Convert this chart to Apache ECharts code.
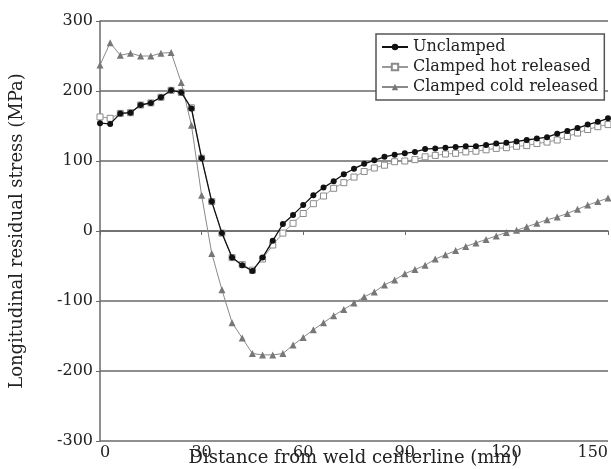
<!DOCTYPE html>
<html>
<head>
<meta charset="utf-8">
<script src="https://cdn.jsdelivr.net/npm/echarts@6/dist/echarts.min.js"></script>
<style>html,body{margin:0;padding:0;background:#fff}#c{width:611px;height:469px}</style>
</head>
<body>
<div id="c"></div>
<script>
const distance = [0,3,6,9,12,15,18,21,24,27,30,33,36,39,42,45,48,51,54,57,60,63,66,69,72,75,78,81,84,87,90,93,96,99,102,105,108,111,114,117,120,123,126,129,132,135,138,141,144,147,150];
const unclamped = [154,153,168,169,180,183,191,201,198,175,104,42,-3,-38,-49,-57,-38,-14,10,23,37,51,62,71,81,89,96,101,106,109,111,113,117,118,119,120,121,121,123,125,126,128,130,132,134,139,143,147,152,156,161];
const hotReleased = [163,161,168,169,180,183,191,201,198,176,104,42,-3,-38,-48,-56,-40,-20,-3,11,25,39,50,61,69,77,85,90,94,99,100,102,106,108,110,111,113,114,116,118,119,121,122,125,127,130,135,140,145,149,152];
const coldReleased = [237,269,251,254,250,250,254,255,212,151,51,-32,-84,-131,-153,-175,-177,-177,-175,-163,-152,-141,-131,-121,-112,-103,-94,-87,-77,-70,-61,-55,-49,-40,-34,-28,-22,-17,-12,-7,-2,1,6,11,16,20,25,31,37,42,47];
const seriesNames = ['Unclamped','Clamped hot released','Clamped cold released'];
const xTitle = 'Distance from weld centerline (mm)';
const yTitle = 'Longitudinal residual stress (MPa)';

const FONT = 'DejaVu Serif';
const pairs = arr => distance.map((d,i)=>[d, arr[i]]);
const chart = echarts.init(document.getElementById('c'), null, {renderer:'canvas'});
chart.setOption({
  animation:false,
  backgroundColor:'#fff',
  grid:{left:97,right:1,top:21,bottom:28,containLabel:false},
  xAxis:{type:'value',min:0,max:150,interval:30,
    axisLine:{onZero:true,lineStyle:{color:'#6a6a6a',width:1.5}},
    axisTick:{show:true,length:4,lineStyle:{color:'#6a6a6a'}},
    axisLabel:{color:'#222',fontFamily:FONT,fontSize:16,margin:4,alignMinLabel:'left',alignMaxLabel:'right'},
    splitLine:{show:false}},
  yAxis:{type:'value',min:-300,max:300,interval:100,
    name:yTitle,nameLocation:'middle',nameGap:74,nameRotate:90,
    nameTextStyle:{color:'#222',fontFamily:FONT,fontSize:18},
    axisLine:{show:true,onZero:false,lineStyle:{color:'#6a6a6a',width:1.5}},
    axisTick:{show:true,length:4,lineStyle:{color:'#6a6a6a'}},
    axisLabel:{color:'#222',fontFamily:FONT,fontSize:16,margin:7},
    splitLine:{show:true,lineStyle:{color:'#6a6a6a',width:1.5}}},
  legend:{orient:'vertical',left:376,top:34,data:seriesNames,
    backgroundColor:'#fff',borderColor:'#555',borderWidth:1.5,
    padding:[5,6,5,5],itemGap:4,itemWidth:26,itemHeight:8,
    textStyle:{color:'#222',fontFamily:FONT,fontSize:16}},
  graphic:[{type:'text',x:353.5,y:458,style:{text:xTitle,fill:'#222',font:'18px "DejaVu Serif"',textAlign:'center',textVerticalAlign:'middle'}}],
  series:[
    {name:seriesNames[1],type:'line',data:pairs(hotReleased),symbol:'rect',symbolSize:6,z:2,
      lineStyle:{color:'#9a9a9a',width:1},itemStyle:{color:'#fff',borderColor:'#8a8a8a',borderWidth:1}},
    {name:seriesNames[2],type:'line',data:pairs(coldReleased),symbol:'triangle',symbolSize:7,z:2,
      lineStyle:{color:'#8a8a8a',width:1},itemStyle:{color:'#777',borderColor:'#777',borderWidth:0}},
    {name:seriesNames[0],type:'line',data:pairs(unclamped),symbol:'circle',symbolSize:6,z:3,
      lineStyle:{color:'#111',width:1.3},itemStyle:{color:'#111',borderColor:'#111',borderWidth:0}}
  ]
});
</script>
</body>
</html>
